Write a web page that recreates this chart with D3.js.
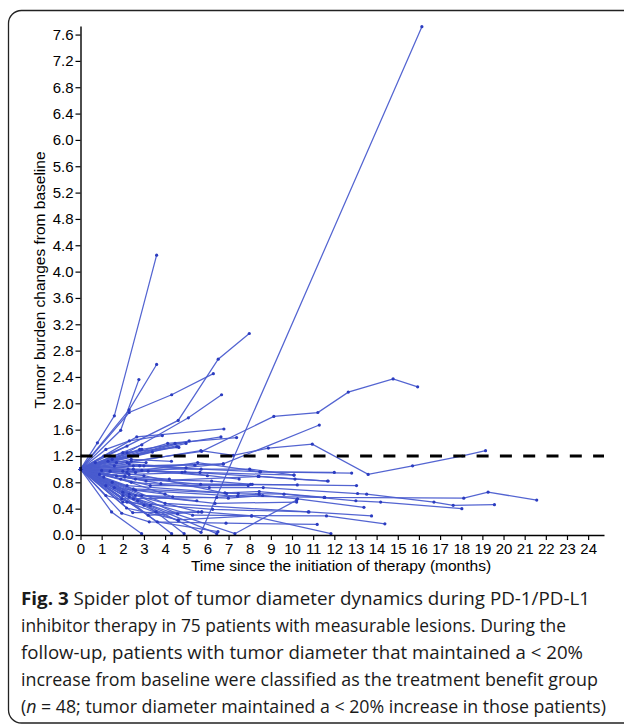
<!DOCTYPE html>
<html><head><meta charset="utf-8">
<script src="https://cdn.jsdelivr.net/npm/d3@7/dist/d3.min.js"></script>
<style>
html,body{margin:0;padding:0;background:#fff;}
svg{display:block;}
</style></head>
<body>
<svg id="chart" width="624" height="725"></svg>
<script>
// ---- tick labels ----
const yTickValues = [0,0.4,0.8,1.2,1.6,2.0,2.4,2.8,3.2,3.6,4.0,4.4,4.8,5.2,5.6,6.0,6.4,6.8,7.2,7.6];
const xTickValues = [0,1,2,3,4,5,6,7,8,9,10,11,12,13,14,15,16,17,18,19,20,21,22,23,24];
const thresholdValue = 1.2;

// ---- patients whose tumour burden rose above 1.2 ([month, ratio]) ----
const progressionSeries = [
  [[0,1],[0.8,1.40],[1.6,1.81],[3.6,4.25]],
  [[0,1],[2.3,1.90],[3.6,2.59]],
  [[0,1],[1.9,1.59],[2.76,2.36]],
  [[0,1],[2.3,1.86],[4.31,2.13],[6.28,2.45]],
  [[0,1],[4.62,1.74],[6.51,2.67],[7.98,3.06]],
  [[0,1],[2.2,1.25],[5.1,1.78],[6.67,2.13]],
  [[0,1],[2.5,0.55],[5.7,0.04],[16.14,7.72]],
  [[0,1],[2.4,1.12],[5.73,1.27],[9.14,1.80],[11.22,1.86],[12.66,2.17],[14.78,2.37],[15.94,2.25]],
  [[0,1],[2.6,0.95],[6.75,1.08],[11.29,1.67]],
  [[0,1],[2.2,1.10],[5.69,1.28],[7.22,1.21],[8.88,1.32],[10.96,1.38],[13.6,0.92],[15.7,1.05],[18.06,1.20],[19.15,1.28]],
  [[0,1],[1.2,1.30],[2.31,1.43],[3.87,1.51]],
  [[0,1],[2.66,1.49],[6.78,1.61]],
  [[0,1],[4.12,1.39],[7.38,1.48]],
  [[0,1],[2.9,1.30],[6.64,1.49]],
  [[0,1],[2.9,1.37]],
  [[0,1],[4.99,1.39]],
  [[0,1],[5.14,1.43]],
  [[0,1],[4.47,1.39]],
  [[0,1],[2.8,1.30]],
  [[0,1],[1.5,1.15],[4.55,1.34]],
  [[0,1],[2.0,1.25],[4.65,1.33]],
  [[0,1],[3.4,1.26]],
  [[0,1],[1.1,1.20],[2.2,1.35]]
];

// ---- patients who stayed below a 20% increase ----
const benefitSeries = [
  [[0,1],[2.2,0.95],[5.54,1.10],[8.51,0.96],[12.82,0.94]],
  [[0,1],[2.0,0.97],[4.94,0.96],[8.4,0.89],[10.14,0.85],[11.71,0.82]],
  [[0,1],[2.3,0.92],[5.65,0.95],[10.09,0.91]],
  [[0,1],[2.6,0.85],[6.2,0.82],[8.12,0.77],[13.05,0.75]],
  [[0,1],[2.1,0.88],[5.68,0.77],[10.25,0.76]],
  [[0,1],[2.4,0.80],[6.09,0.72],[8.64,0.72],[13.1,0.63],[13.53,0.62],[16.71,0.50],[17.62,0.45],[19.57,0.46]],
  [[0,1],[2.2,0.75],[6.83,0.64],[8.45,0.66],[11.55,0.57],[18.12,0.56],[19.27,0.65],[21.57,0.53]],
  [[0,1],[2.5,0.70],[7.46,0.63],[9.62,0.62],[13.02,0.52],[14.19,0.50],[18.03,0.40]],
  [[0,1],[2.6,0.60],[6.99,0.56],[8.61,0.60],[10.26,0.55],[13.4,0.42]],
  [[0,1],[2.3,0.62],[6.36,0.48],[10.22,0.50]],
  [[0,1],[1.95,0.55],[6.44,0.57],[8.45,0.62]],
  [[0,1],[2.0,0.50],[6.25,0.39],[10.77,0.35],[13.76,0.29]],
  [[0,1],[2.47,0.34],[5.73,0.35],[8.09,0.29],[11.84,0.02]],
  [[0,1],[1.47,0.35],[2.89,0.02]],
  [[0,1],[1.95,0.33],[3.25,0.20],[6.88,0.18],[11.19,0.16]],
  [[0,1],[2.18,0.41],[4.62,0.23],[8.09,0.29]],
  [[0,1],[2.3,0.58],[5.3,0.30],[11.63,0.29],[14.39,0.17]],
  [[0,1],[2.0,0.60],[4.31,0.02]],
  [[0,1],[1.5,0.80],[3.57,0.35],[4.9,0.02]],
  [[0,1],[2.7,0.52],[6.44,0.02]],
  [[0,1],[3.3,0.45],[7.3,0.02],[10.22,0.53]],
  [[0,1],[1.0,0.98],[2.5,1.05]],
  [[0,1],[0.9,0.92],[2.1,0.90]],
  [[0,1],[2.3,1.08],[4.99,1.02]],
  [[0,1],[1.6,1.05],[5.41,1.06]],
  [[0,1],[1.9,0.85],[4.36,0.58]],
  [[0,1],[4.59,0.32]],
  [[0,1],[2.2,0.50],[4.62,0.22]],
  [[0,1],[1.2,0.75],[3.57,0.35]],
  [[0,1],[3.0,0.90],[6.91,0.63]],
  [[0,1],[2.0,0.65],[5.57,0.35]],
  [[0,1],[3.3,0.75],[7.93,0.75]],
  [[0,1],[1.4,0.97],[3.2,0.97]],
  [[0,1],[2.8,1.05],[5.7,1.00],[8.48,0.96],[12.0,0.95]],
  [[0,1],[1.7,0.90],[4.2,0.85]],
  [[0,1],[1.2,0.60],[3.0,0.45]],
  [[0,1],[2.9,0.60],[5.5,0.52]],
  [[0,1],[3.8,0.78],[8.04,0.77]],
  [[0,1],[0.7,1.10],[1.7,1.10]],
  [[0,1],[2.4,1.15],[4.3,1.12]],
  [[0,1],[2.6,0.68],[7.43,0.59],[11.52,0.57]],
  [[0,1],[3.63,0.20],[6.5,0.05]],
  [[0,1],[2.5,1.00],[8.0,1.00],[10.1,0.91]],
  [[0,1],[3.2,0.30],[5.73,0.35]],
  [[0,1],[1.1,0.88]],
  [[0,1],[2.9,0.98],[6.0,0.90]],
  [[0,1],[1.6,0.72],[4.0,0.62]],
  [[0,1],[2.25,1.00],[4.8,0.95],[7.5,0.85]],
  [[0,1],[3.1,0.82],[8.44,0.89],[11.68,0.82]],
  [[0,1],[1.3,1.12],[3.1,1.10]],
  [[0,1],[4.0,0.48],[10.8,0.35]],
  [[0,1],[3.0,1.05],[6.75,1.08]]
];

const xTitle = "Time since the initiation of therapy (months)";
const yTitle = "Tumor burden changes from baseline";

// ---- drawing ----
const svg = d3.select("#chart");
svg.append("rect").attr("x",0).attr("y",0).attr("width",624).attr("height",725).attr("fill","#fff");
svg.append("rect").attr("x",8.5).attr("y",10.5).attr("width",700).attr("height",712.5)
  .attr("rx",13).attr("fill","none").attr("stroke","#222").attr("stroke-width",1.3);

const x = d3.scaleLinear().domain([0,24.75]).range([80.5,604]);
const y = d3.scaleLinear().domain([0,7.73]).range([535,26]);

const lineColor = "#4a5ccf";
const dotColor = "#2b3cc0";
const lineGen = d3.line().x(d=>x(d[0])).y(d=>y(d[1]));
const allSeries = benefitSeries.concat(progressionSeries);

const plot = svg.append("g");
plot.selectAll("path.sp").data(allSeries).join("path")
  .attr("class","sp").attr("d",lineGen)
  .attr("fill","none").attr("stroke",lineColor).attr("stroke-width",1.25).attr("stroke-opacity",0.95);
plot.selectAll("g.pts").data(allSeries).join("g").attr("class","pts")
  .selectAll("circle").data(d=>d).join("circle")
  .attr("cx",d=>x(d[0])).attr("cy",d=>y(d[1])).attr("r",1.6).attr("fill",dotColor);

// threshold dashed line
svg.append("line").attr("x1",x(0)).attr("x2",x(24.75)).attr("y1",y(thresholdValue)).attr("y2",y(thresholdValue))
  .attr("stroke","#000").attr("stroke-width",3.2).attr("stroke-dasharray","12,11.3");

// axes
const fontAxis = "'Liberation Sans', Arial, sans-serif";
const yAxis = svg.append("g").attr("transform","translate(80.5,0)")
  .call(d3.axisLeft(y).tickValues(yTickValues).tickFormat(d3.format(".1f")).tickSize(5).tickSizeOuter(0).tickPadding(2));
const xAxis = svg.append("g").attr("transform","translate(0,535)")
  .call(d3.axisBottom(x).tickValues(xTickValues).tickFormat(d3.format("d")).tickSize(5).tickSizeOuter(0).tickPadding(3));
[yAxis,xAxis].forEach(g=>{
  g.select(".domain").attr("stroke","#000").attr("stroke-width",1.4);
  g.selectAll(".tick line").attr("stroke","#000").attr("stroke-width",1.2);
  g.selectAll(".tick text").attr("fill","#000").style("font-family",fontAxis).style("font-size","15px");
});

svg.append("text").attr("x",341).attr("y",571).attr("text-anchor","middle")
  .style("font-family",fontAxis).style("font-size","15.5px").attr("fill","#000").text(xTitle);
svg.append("text").attr("transform","translate(45,280) rotate(-90)").attr("text-anchor","middle")
  .style("font-family",fontAxis).style("font-size","15.5px").attr("fill","#000").text(yTitle);

// caption
const capFont = "'Open Sans', 'Noto Sans', sans-serif";
const capLines = [
  {y:605, w:569, parts:[{t:"Fig. 3",b:true},{t:" Spider plot of tumor diameter dynamics during PD-1/PD-L1"}]},
  {y:632, w:545, parts:[{t:"inhibitor therapy in 75 patients with measurable lesions. During the"}]},
  {y:659, w:562, parts:[{t:"follow-up, patients with tumor diameter that maintained a < 20%"}]},
  {y:686, w:577, parts:[{t:"increase from baseline were classified as the treatment benefit group"}]},
  {y:713, w:585, parts:[{t:"("},{t:"n",i:true},{t:" = 48; tumor diameter maintained a < 20% increase in those patients)"}]}
];
capLines.forEach(l=>{
  const t = svg.append("text").attr("x",21).attr("y",l.y)
    .style("font-family",capFont).style("font-size","18px").attr("fill","#1a1a1a")
    .attr("textLength",l.w).attr("lengthAdjust","spacingAndGlyphs");
  l.parts.forEach(p=>{
    const s = t.append("tspan").text(p.t);
    if(p.b) s.style("font-weight","700");
    if(p.i) s.style("font-style","italic");
  });
});
</script>
</body></html>
